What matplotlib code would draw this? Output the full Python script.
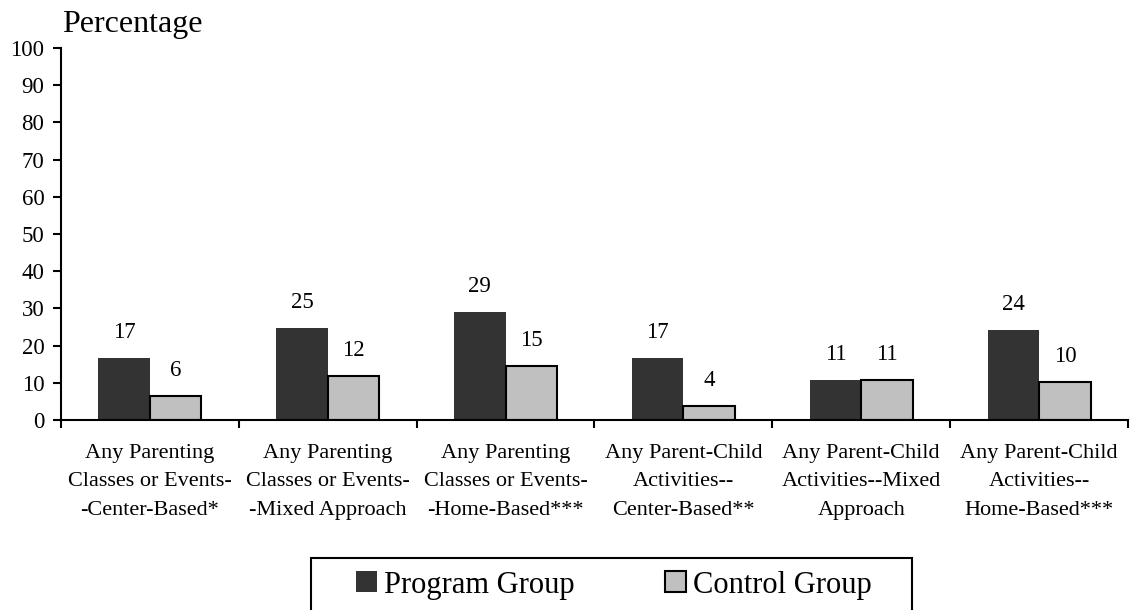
import matplotlib
matplotlib.use("Agg")
import matplotlib.pyplot as plt
import numpy as np
from matplotlib.patches import Rectangle

plt.rcParams['font.family'] = ['Liberation Serif', 'DejaVu Serif']

categories = [
    "Any Parenting\nClasses or Events-\n-Center-Based*",
    "Any Parenting\nClasses or Events-\n-Mixed Approach",
    "Any Parenting\nClasses or Events-\n-Home-Based***",
    "Any Parent-Child\nActivities--\nCenter-Based**",
    "Any Parent-Child\nActivities--Mixed\nApproach",
    "Any Parent-Child\nActivities--\nHome-Based***",
]
program_group = [16.6, 24.6, 29.0, 16.6, 10.7, 24.2]
control_group = [6.4, 11.8, 14.6, 3.8, 10.8, 10.1]
series_names = ["Program Group", "Control Group"]
y_ticks = [0, 10, 20, 30, 40, 50, 60, 70, 80, 90, 100]

W, H = 1131, 610
fig = plt.figure(figsize=(W / 100, H / 100), dpi=100)
ax = fig.add_axes([61 / W, 1 - 420 / H, (1128 - 61) / W, (420 - 48) / H])

x = np.arange(len(categories))
bw = 0.29
b1 = ax.bar(x - bw / 2, program_group, bw, color="#333333", edgecolor="#333333", linewidth=0)
b2 = ax.bar(x + bw / 2, control_group, bw, color="#c0c0c0", edgecolor="black", linewidth=1.5)

for bars, vals in ((b1, program_group), (b2, control_group)):
    for r, v in zip(bars, vals):
        ax.annotate(f"{v:.0f}", (r.get_x() + r.get_width() / 2, v),
                    xytext=(0, 14.5), textcoords="offset points",
                    ha="center", va="baseline", fontsize=16.5)

ax.set_xlim(-0.5, len(categories) - 0.5)
ax.set_ylim(0, 100)
ax.set_yticks(y_ticks)
ax.tick_params(axis="y", labelsize=16.5, length=6, width=1.5, pad=6)
ax.set_xticks(np.arange(len(categories) + 1) - 0.5)
ax.set_xticklabels([])
ax.set_xticks(x, minor=True)
ax.set_xticklabels(categories, minor=True, fontsize=16, linespacing=1.68)
ax.tick_params(axis="x", which="major", length=6, width=1.5, direction="out")
ax.tick_params(axis="x", which="minor", length=0, pad=17)

for s in ("top", "right"):
    ax.spines[s].set_visible(False)
for s in ("left", "bottom"):
    ax.spines[s].set_linewidth(1.5)
ax.spines["bottom"].set_clip_on(False)

fig.text(62 / W, 1 - 32 / H, "Percentage", fontsize=23, ha="left", va="baseline")

# legend box runs off the bottom edge of the figure
fig.patches.append(Rectangle((311 / W, -0.05), (912 - 311) / W, (1 - 558 / H) + 0.05,
                             transform=fig.transFigure, facecolor="white",
                             edgecolor="black", linewidth=1.5))
leg = fig.legend([b1, b2], series_names, loc="center", bbox_to_anchor=(614 / W, 1 - 585 / H),
                 ncol=2, frameon=False, fontsize=22, handlelength=0.69, handleheight=0.69,
                 handletextpad=0.23, columnspacing=2.95, borderpad=0, borderaxespad=0)

fig.savefig("out.png", dpi=100)
